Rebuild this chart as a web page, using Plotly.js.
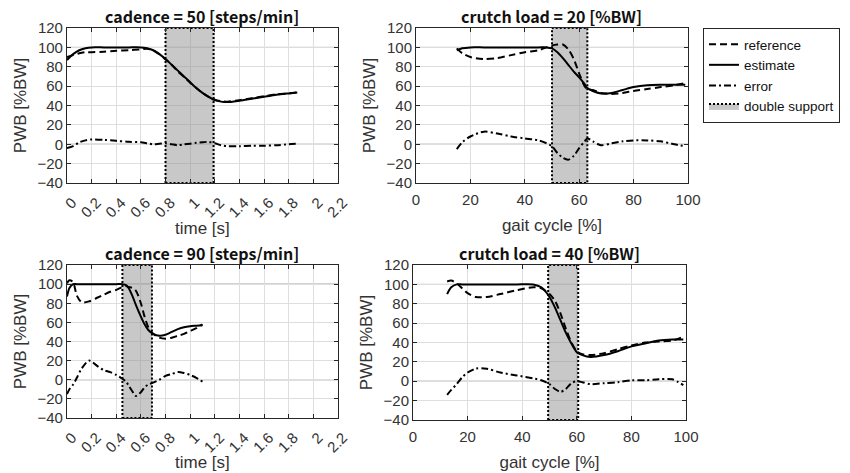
<!DOCTYPE html>
<html>
<head>
<meta charset="utf-8">
<script src="https://cdn.plot.ly/plotly-3.0.1.min.js"></script>
<style>html,body{margin:0;padding:0;background:#fff;}#chart{width:850px;height:473px;}</style>
</head>
<body>
<div id="chart"></div>
<script>
// ---- Panel titles ----
const panelTitles = ["cadence = 50 [steps/min]", "crutch load = 20 [%BW]", "cadence = 90 [steps/min]", "crutch load = 40 [%BW]"];
const seriesNames = ["reference", "estimate", "error", "double support"];
const timeTitle = "time [s]";
const gaitTitle = "gait cycle [%]";
const yTitle = "PWB [%BW]";

// ---- cadence = 50 (time [s]) ----
const t50   = [0, 0.05, 0.1, 0.15, 0.2, 0.3, 0.4, 0.5, 0.6, 0.65, 0.7, 0.75, 0.8, 0.85, 0.9, 0.95, 1.0, 1.05, 1.1, 1.15, 1.2, 1.25, 1.3, 1.4, 1.5, 1.6, 1.7, 1.8, 1.87];
const est50 = [87, 93, 97, 99, 100, 100, 100, 100, 100, 99, 97, 93, 88, 82, 76, 70, 64, 58, 53, 49, 45.5, 44, 43.5, 45, 47, 49, 51, 52.5, 53.5];
const ref50 = [90, 92, 94, 95, 95, 95.5, 96.5, 97, 98, 98.5, 97, 93, 87.5, 82, 75, 69.5, 63.5, 58, 53, 49, 46, 44.5, 44, 45.5, 47.5, 49.5, 51.5, 52.5, 53.5];
const err50 = [-4, -2, 2, 4, 5, 4.5, 3.5, 2.5, 2, 1, 0, 0.5, 1, 0, -1, 0, 0.5, 1.5, 2, 2.5, 1, -1, -2, -2, -1.5, -1.5, -1, 0, 0.5];
const ds50  = [0.8, 1.19];

// ---- crutch load = 20 (gait cycle [%]) ----
const g20   = [15, 17, 20, 25, 30, 35, 40, 45, 48, 50, 52, 54, 56, 58, 60, 62, 63, 65, 68, 72, 76, 80, 85, 90, 95, 99];
const est20 = [97, 99, 100, 100, 100, 100, 100, 100, 100, 99, 95, 89, 82, 75, 69, 62, 58, 55, 52.5, 53, 56, 59, 61, 61.5, 61.5, 61.5];
const ref20 = [99, 94, 90, 88, 89, 92, 95, 97, 100, 102, 103, 103, 98, 88, 73, 60, 57, 56, 53, 52, 53, 55, 57, 59, 61, 63];
const err20 = [-5, 2, 8, 13, 11, 8, 6, 4, 1, -2, -9, -14, -16, -12, -4, 3, 6, 3, -1, 1, 3, 4, 4, 3, 0, -2];
const ds20  = [50, 63];

// ---- cadence = 90 (time [s]) ----
const t90   = [0, 0.02, 0.05, 0.08, 0.12, 0.18, 0.25, 0.3, 0.35, 0.4, 0.45, 0.48, 0.5, 0.53, 0.56, 0.6, 0.63, 0.66, 0.7, 0.75, 0.8, 0.85, 0.9, 0.95, 1.0, 1.05, 1.1];
const est90 = [87, 96, 100, 100, 100, 100, 100, 100, 100, 100, 100, 99, 96, 88, 78, 66, 58, 52, 48, 46, 47, 50, 53, 55, 56, 56.5, 57];
const ref90 = [101, 104, 102, 88, 81, 82, 86, 89, 92, 94, 97, 98, 97, 96, 93, 80, 66, 55, 48, 44, 43, 44, 46, 48, 51, 54, 58];
const err90 = [-15, -10, -5, 2, 12, 20, 14, 10, 8, 5, 1, -2, -6, -12, -17, -13, -8, -5, -3, 0, 4, 6, 8, 7, 5, 2, -2];
const ds90  = [0.45, 0.69];

// ---- crutch load = 40 (gait cycle [%]) ----
const g40   = [12.5, 14, 16, 18, 20, 23, 27, 32, 38, 44, 47, 50, 52, 54, 56, 58, 60, 62, 65, 70, 75, 80, 85, 90, 95, 99];
const est40 = [90, 97, 100, 100, 100, 100, 100, 100, 100, 100, 97, 87, 76, 63, 50, 39, 30, 27, 25, 27, 31, 36, 39, 42, 43, 43];
const ref40 = [103, 104, 101, 96, 91, 87, 87, 90, 94, 97, 96, 90, 83, 70, 54, 40, 31, 28, 27, 29, 33, 37, 40, 41, 42, 46];
const err40 = [-14, -9, -3, 4, 9, 13, 13, 9, 6, 3, 1, -3, -8, -11, -8, -2, 0, -1, -3, -2, -1, 1, 1, 2, 2, -4];
const ds40  = [49.5, 60.5];

// ---- axes ----
const yRange = [-40, 120];
const yTicks = [-40, -20, 0, 20, 40, 60, 80, 100, 120];
const timeTicks = [0, 0.2, 0.4, 0.6, 0.8, 1, 1.2, 1.4, 1.6, 1.8, 2, 2.2];
const timeRange = [0, 2.2];
const gaitTicks = [0, 20, 40, 60, 80, 100];
const gaitRange = [0, 100];
const refLines = [0, 100];

const panels = [
  {x: t50, est: est50, ref: ref50, err: err50, ds: ds50, time: true},
  {x: g20, est: est20, ref: ref20, err: err20, ds: ds20, time: false},
  {x: t90, est: est90, ref: ref90, err: err90, ds: ds90, time: true},
  {x: g40, est: est40, ref: ref40, err: err40, ds: ds40, time: false}
];

const traces = [];
panels.forEach((p, i) => {
  const sfx = i === 0 ? '' : String(i + 1);
  const xa = 'x' + sfx, ya = 'y' + sfx;
  const first = i === 0;
  traces.push({
    type: 'scatter', mode: 'lines', xaxis: xa, yaxis: ya,
    x: [p.ds[0], p.ds[1], p.ds[1], p.ds[0], p.ds[0]],
    y: [yRange[0], yRange[0], yRange[1], yRange[1], yRange[0]],
    fill: 'toself', fillcolor: 'rgba(140,140,140,0.48)',
    line: {color: '#000', width: 2, dash: '2px,2px'},
    name: seriesNames[3], showlegend: first, legendrank: 4, hoverinfo: 'skip'
  });
  traces.push({
    type: 'scatter', mode: 'lines', xaxis: xa, yaxis: ya, x: p.x, y: p.ref,
    line: {color: '#000', width: 2, dash: '7px,4px', shape: 'spline', smoothing: 0.8},
    name: seriesNames[0], showlegend: first, legendrank: 1
  });
  traces.push({
    type: 'scatter', mode: 'lines', xaxis: xa, yaxis: ya, x: p.x, y: p.est,
    line: {color: '#000', width: 2, shape: 'spline', smoothing: 0.8},
    name: seriesNames[1], showlegend: first, legendrank: 2
  });
  traces.push({
    type: 'scatter', mode: 'lines', xaxis: xa, yaxis: ya, x: p.x, y: p.err,
    line: {color: '#000', width: 2, dash: '7px,3px,2px,3px', shape: 'spline', smoothing: 0.8},
    name: seriesNames[2], showlegend: first, legendrank: 3
  });
});

const tickFont = {family: 'Liberation Sans, Arial, sans-serif', size: 15, color: '#333'};
const titleFont = {family: 'Liberation Sans, Arial, sans-serif', size: 17, color: '#333'};
function xAxis(domain, isTime, anchor) {
  const ax = {
    domain: domain, anchor: anchor,
    range: isTime ? timeRange : gaitRange,
    tickmode: 'array', tickvals: isTime ? timeTicks : gaitTicks,
    tickangle: isTime ? -45 : 0,
    ticklabelshift: isTime ? 5 : 0,
    ticklabelstandoff: isTime ? 4 : 3,
    showgrid: true, gridcolor: '#dedede', gridwidth: 1, zeroline: false,
    showline: true, linecolor: '#262626', linewidth: 1, mirror: 'ticks',
    ticks: 'inside', ticklen: 4, tickcolor: '#262626',
    tickfont: tickFont
  };
  if (!isTime) ax.title = {text: gaitTitle, font: titleFont, standoff: 12};
  return ax;
}
function yAxis(domain, anchor) {
  return {
    domain: domain, anchor: anchor, range: yRange,
    tickmode: 'array', tickvals: yTicks,
    showgrid: true, gridcolor: '#dedede', gridwidth: 1, zeroline: false,
    showline: true, linecolor: '#262626', linewidth: 1, mirror: 'ticks',
    ticks: 'inside', ticklen: 4, tickcolor: '#262626',
    tickfont: tickFont,
    title: {text: yTitle, font: titleFont, standoff: 6}
  };
}

const shapes = [];
const annotations = [];
['', '2', '3', '4'].forEach((s, i) => {
  refLines.forEach(v => {
    shapes.push({type: 'line', layer: 'below', xref: 'x' + s + ' domain', yref: 'y' + s,
      x0: 0, x1: 1, y0: v, y1: v, line: {color: '#808080', width: 1}});
  });
  annotations.push({
    xref: 'x' + s + ' domain', yref: 'y' + s + ' domain', x: 0.5, y: 1,
    xanchor: 'center', yanchor: 'bottom', yshift: -2, showarrow: false,
    text: '<b>' + panelTitles[i] + '</b>',
    font: {family: 'Noto Sans CJK SC, Noto Sans, sans-serif', size: 16, color: '#111'}
  });
  if (panels[i].time) {
    // x-axis title for the time panels (placed below the rotated tick labels)
    annotations.push({
      xref: 'x' + s + ' domain', yref: 'y' + s + ' domain', x: 0.5, y: 0,
      xanchor: 'center', yanchor: 'middle', yshift: -45, showarrow: false,
      text: timeTitle, font: titleFont
    });
  }
});

const layout = {
  width: 850, height: 473,
  margin: {l: 0, r: 0, t: 0, b: 0},
  paper_bgcolor: '#fff', plot_bgcolor: '#fff',
  showlegend: true,
  legend: {
    x: 703 / 850, y: 1 - 28 / 473, xanchor: 'left', yanchor: 'top',
    bordercolor: '#262626', borderwidth: 1, bgcolor: '#fff',
    font: {family: 'Liberation Sans, Arial, sans-serif', size: 13.5, color: '#111'},
    itemwidth: 30, tracegroupgap: 0, traceorder: 'normal'
  },
  xaxis:  xAxis([0.0788, 0.3976], true, 'y'),
  xaxis2: xAxis([0.4894, 0.8094], false, 'y2'),
  xaxis3: xAxis([0.0788, 0.3976], true, 'y3'),
  xaxis4: xAxis([0.4859, 0.8071], false, 'y4'),
  yaxis:  yAxis([0.6131, 0.9408], 'x'),
  yaxis2: yAxis([0.6131, 0.9408], 'x2'),
  yaxis3: yAxis([0.1163, 0.4397], 'x3'),
  yaxis4: yAxis([0.1121, 0.4397], 'x4'),
  shapes: shapes,
  annotations: annotations
};

Plotly.newPlot('chart', traces, layout, {displayModeBar: false, staticPlot: true});
</script>
</body>
</html>
